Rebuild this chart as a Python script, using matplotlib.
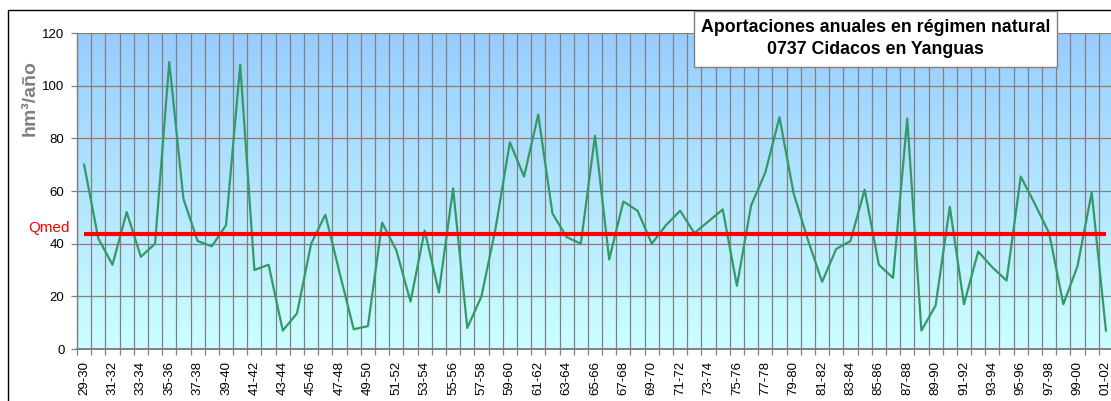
import numpy as np
import matplotlib
matplotlib.use("Agg")
import matplotlib.pyplot as plt
from matplotlib.colors import LinearSegmentedColormap
from matplotlib.patches import Rectangle

plt.rcParams['font.family'] = ['Liberation Sans', 'DejaVu Sans']

years = ["29-30", "30-31", "31-32", "32-33", "33-34", "34-35", "35-36", "36-37", "37-38", "38-39",
         "39-40", "40-41", "41-42", "42-43", "43-44", "44-45", "45-46", "46-47", "47-48", "48-49",
         "49-50", "50-51", "51-52", "52-53", "53-54", "54-55", "55-56", "56-57", "57-58", "58-59",
         "59-60", "60-61", "61-62", "62-63", "63-64", "64-65", "65-66", "66-67", "67-68", "68-69",
         "69-70", "70-71", "71-72", "72-73", "73-74", "74-75", "75-76", "76-77", "77-78", "78-79",
         "79-80", "80-81", "81-82", "82-83", "83-84", "84-85", "85-86", "86-87", "87-88", "88-89",
         "89-90", "90-91", "91-92", "92-93", "93-94", "94-95", "95-96", "96-97", "97-98", "98-99",
         "99-00", "00-01", "01-02"]

aportaciones = [70, 42, 32, 52, 35, 40, 109, 57, 41, 39,
                47, 108, 30, 32, 7, 13.5, 40, 51, 29, 7.5,
                8.7, 48, 37.5, 18, 45, 21.5, 61, 8, 20, 46,
                78.5, 65.5, 89, 51.5, 42.5, 40, 81, 34, 56, 52.5,
                40, 47, 52.5, 44, 48.5, 53, 24, 54.5, 67, 88,
                59, 41.5, 25.5, 38, 41, 60.5, 32, 27, 87.5, 7,
                16.5, 54, 17, 37, 31, 26, 65.5, 55, 44, 17,
                31.5, 59.5, 7]

qmed = 43.6
yticks = [0, 20, 40, 60, 80, 100, 120]

W, H = 1111, 401
fig = plt.figure(figsize=(W / 100, H / 100), dpi=100)

# chart-area outer border (clipped at right/bottom like the reference)
fig.patches.append(Rectangle((8 / W, -0.2), 1.2, 1 - 10 / H + 0.2, transform=fig.transFigure,
                             fill=False, edgecolor='black', lw=1.0, zorder=0))

left, right, top, bottom = 77, 1113, 33, 349
ax = fig.add_axes([left / W, 1 - bottom / H, (right - left) / W, (bottom - top) / H])

n = len(years)
x = np.arange(n)

# gradient background
cmap = LinearSegmentedColormap.from_list('bg', ['#CCFFFF', '#99CCFF'])
grad = np.linspace(0, 1, 256).reshape(-1, 1)
ax.imshow(grad, extent=[-0.5, n - 0.5, 0, 120], aspect='auto', cmap=cmap,
          origin='lower', zorder=0)

ax.set_xlim(-0.5, n - 0.5)
ax.set_ylim(0, 120)

# grid
for k in range(n + 1):
    ax.axvline(k - 0.5, color='#808080', lw=0.9, zorder=1)
for v in yticks[1:]:
    ax.axhline(v, color='#808080', lw=0.9, zorder=1)

ax.plot(x, aportaciones, color='#339966', lw=1.6, zorder=3)
ax.plot(x, [qmed] * n, color='#FF0000', lw=3.0, zorder=4, solid_capstyle='butt')

ax.set_yticks(yticks)
ax.set_yticklabels([str(v) for v in yticks], fontsize=9.5)
ax.tick_params(axis='y', direction='out', length=4, width=0.9, color='#808080', pad=5)

ax.set_xticks(x[::2])
ax.set_xticklabels(years[::2], rotation=90, fontsize=9.5)
ax.set_xticks(np.arange(n + 1) - 0.5, minor=True)
ax.tick_params(axis='x', which='major', length=0, pad=8.5)
ax.tick_params(axis='x', which='minor', direction='out', length=4, width=0.9, color='#808080')

for s in ['top', 'right']:
    ax.spines[s].set_visible(False)
for s in ['left', 'bottom']:
    ax.spines[s].set_color('#808080')
ax.spines['left'].set_linewidth(1.0)
ax.spines['bottom'].set_linewidth(1.4)

# y label
fig.text(30 / W, 1 - 98 / H, 'hm³/año', rotation=90, ha='center', va='center',
         fontsize=14, fontweight='bold', color='#808080')

# Qmed label
fig.text(70 / W, 1 - 228 / H, 'Qmed', ha='right', va='center', fontsize=11, color='#FF0000')

# title box
bx0, bx1, by0, by1 = 694, 1057, 11, 67
fig.patches.append(Rectangle((bx0 / W, 1 - by1 / H), (bx1 - bx0) / W, (by1 - by0) / H,
                             transform=fig.transFigure, facecolor='white',
                             edgecolor='#808080', lw=1.0, zorder=5))
cx = (bx0 + bx1) / 2 / W
fig.text(cx, 1 - 28 / H, 'Aportaciones anuales en régimen natural', ha='center', va='center',
         fontsize=12.8, fontweight='bold', color='black', zorder=6)
fig.text(cx, 1 - 50 / H, '0737 Cidacos en Yanguas', ha='center', va='center',
         fontsize=12.8, fontweight='bold', color='black', zorder=6)

fig.savefig('out.png', dpi=100)
